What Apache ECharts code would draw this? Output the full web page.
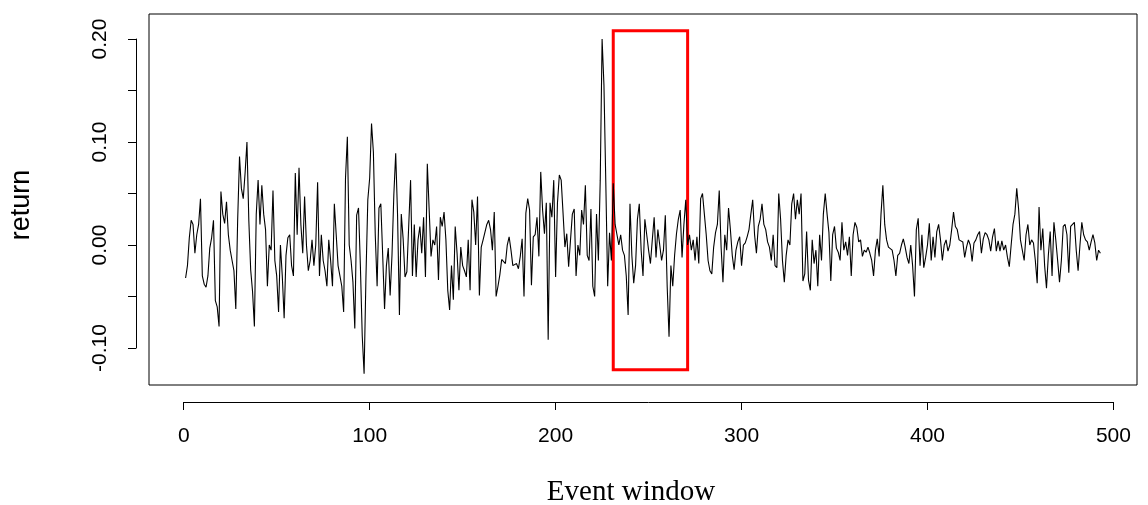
<!DOCTYPE html>
<html><head><meta charset="utf-8">
<script src="https://cdn.jsdelivr.net/npm/echarts@6/dist/echarts.min.js"></script>
<style>html,body{margin:0;padding:0;background:#fff}#c{width:1148px;height:505px}</style>
</head><body><div id="c"></div>
<script>
// Daily returns, index 1..493
const returns = [
-0.032,-0.02,0.007,0.024,0.02,-0.008,0.01,0.02,0.045,-0.03,
-0.038,-0.041,-0.03,-0.003,0.007,0.024,-0.054,-0.06,-0.079,0.052,
0.03,0.021,0.042,0.01,-0.005,-0.015,-0.025,-0.062,0.024,0.086,
0.055,0.045,0.07,0.1,0.024,-0.024,-0.045,-0.079,0.03,0.063,
0.02,
0.058,0.03,0.015,-0.04,0.0,-0.005,0.053,-0.015,-0.03,-0.065,
0.0,-0.03,-0.071,-0.01,0.007,0.01,-0.02,-0.03,0.07,0.01,
0.075,0.02,-0.008,0.047,0.0,-0.025,-0.015,0.005,-0.02,0.0,
0.061,-0.03,0.01,-0.015,-0.025,-0.04,0.005,-0.015,-0.04,0.04,
0.01,
-0.02,-0.03,-0.04,-0.065,0.065,0.105,0.0,-0.015,-0.036,-0.081,
0.029,0.036,-0.02,-0.088,-0.125,-0.031,0.044,0.065,0.118,0.09,
0.01,-0.04,0.036,0.04,-0.01,-0.062,-0.02,-0.003,-0.049,-0.01,
0.049,0.089,0.029,-0.068,0.03,0.006,-0.031,-0.026,0.019,0.063,
-0.03,0.02,
-0.031,0.005,0.018,-0.008,0.027,-0.031,0.079,0.034,-0.011,0.005,
0.0,0.018,-0.034,0.027,0.018,0.032,0.005,-0.044,-0.063,-0.02,
-0.053,0.018,-0.008,-0.044,-0.002,-0.02,-0.025,-0.031,0.005,-0.044,
0.044,0.032,0.0,0.047,-0.049,-0.002,0.005,0.005,0.02,0.024,
0.015,-0.005,
0.032,-0.05,-0.04,-0.029,-0.014,-0.013,-0.018,0.0,0.008,-0.005,
-0.02,-0.021,-0.018,-0.023,-0.011,0.006,-0.05,0.031,0.045,0.034,
-0.039,0.008,0.01,0.027,-0.011,0.071,0.034,0.011,0.041,-0.092,
0.041,0.027,0.063,-0.031,0.041,0.068,0.063,0.031,-0.002,0.011,
-0.021,
-0.02,0.03,0.035,-0.03,0.0,-0.01,0.034,0.02,0.058,-0.01,
-0.015,0.035,-0.04,-0.05,0.03,-0.015,0.063,0.20,0.155,0.06,
-0.04,0.012,-0.015,0.06,0.02,0.01,0.0,0.01,-0.005,-0.01,
-0.03,-0.068,0.04,-0.01,-0.037,-0.02,0.025,0.04,-0.005,-0.03,
0.025,0.01,
-0.005,-0.018,0.005,0.027,-0.012,0.015,0.0,-0.015,-0.005,0.029,
-0.04,-0.089,-0.02,-0.04,-0.01,0.011,0.025,0.034,-0.012,0.02,
0.044,0.0,0.01,-0.005,0.005,-0.015,0.008,-0.018,0.045,0.05,
0.03,0.01,-0.015,-0.025,-0.028,-0.002,0.012,0.02,0.053,-0.002,
-0.036,0.01,
-0.005,0.036,0.015,-0.01,-0.024,-0.005,0.003,0.008,-0.02,0.0,
0.002,0.008,0.015,0.03,0.044,0.01,-0.008,0.018,0.025,0.04,
0.02,0.015,0.003,-0.002,-0.015,0.01,-0.02,-0.022,0.05,0.025,
-0.015,-0.036,-0.01,0.005,0.0,0.04,0.05,0.025,0.044,0.03,
0.05,-0.035,
-0.028,0.013,-0.034,-0.044,0.005,-0.018,-0.005,-0.04,0.01,-0.015,
0.03,0.05,0.03,0.012,-0.035,0.01,0.018,-0.003,-0.007,-0.015,
0.022,-0.005,0.003,-0.01,0.008,-0.03,0.01,0.022,0.017,0.003,
0.005,-0.011,-0.005,-0.007,-0.002,-0.008,-0.015,-0.03,-0.005,0.006,
-0.011,0.03,
0.058,0.02,0.005,-0.002,-0.003,-0.005,-0.015,-0.03,-0.01,-0.008,
0.0,0.006,-0.002,-0.012,-0.018,0.0,-0.02,-0.05,0.015,0.026,
-0.02,0.01,-0.022,-0.012,0.0,0.021,-0.015,0.008,-0.012,0.013,
0.02,0.005,-0.015,0.0,0.005,-0.006,0.0,0.015,0.032,0.018,
0.015,0.005,
0.005,0.003,-0.012,-0.002,0.005,0.0,-0.016,0.002,0.005,0.01,
0.013,-0.008,0.006,0.012,0.01,0.005,-0.006,0.008,0.016,-0.006,
0.004,-0.006,0.004,-0.005,0.0,-0.012,-0.021,0.0,0.02,0.03,
0.055,0.035,0.005,-0.005,-0.015,0.01,0.02,0.0,0.005,0.002,
-0.015,-0.037,
0.037,-0.005,0.016,-0.02,-0.042,-0.01,0.013,-0.03,0.022,0.005,
-0.015,-0.036,-0.015,0.018,0.02,0.01,-0.027,0.018,0.02,0.022,
-0.005,-0.025,0.0,0.022,0.01,0.005,0.003,-0.005,0.003,0.01,
0.002,-0.015,-0.005,-0.008
];
const xTicks = [0, 100, 200, 300, 400, 500];
const yTicks = [-0.10, -0.05, 0.00, 0.05, 0.10, 0.15, 0.20];
const yTickLabels = ['-0.10', '0.00', '0.10', '0.20'];
const eventWindow = [231, 271];
const eventReturnRange = [-0.121, 0.208];

const W = 1148, H = 505;
const box = {left: 149, top: 14, right: 1137, bottom: 385};
const xRange = [-18.68, 512.68], yRange = [-0.1359, 0.2243];
function px(v){ return box.left + (v - xRange[0]) / (xRange[1] - xRange[0]) * (box.right - box.left); }
function py(v){ return box.top + (yRange[1] - v) / (yRange[1] - yRange[0]) * (box.bottom - box.top); }

const font = "'Liberation Sans', Arial, sans-serif";
const chart = echarts.init(document.getElementById('c'), null, {renderer: 'canvas'});
const xMin = xTicks[0], xMax = xTicks[xTicks.length - 1];
const yMin = yTicks[0], yMax = yTicks[yTicks.length - 1];
chart.setOption({
  animation: false,
  backgroundColor: '#fff',
  grid: [
    {left: box.left, top: box.top, right: W - box.right, bottom: H - box.bottom,
     show: true, borderColor: '#000', borderWidth: 1, backgroundColor: 'transparent'},
    {left: px(xMin), right: W - px(xMax), top: box.top, bottom: H - box.bottom, show: false},
    {left: box.left, right: W - box.right, top: py(yMax), bottom: H - py(yMin), show: false}
  ],
  xAxis: [
    {gridIndex: 0, type: 'value', min: xRange[0], max: xRange[1], show: false},
    {gridIndex: 1, type: 'value', min: xMin, max: xMax, interval: 100, position: 'bottom', offset: 17,
     axisLine: {show: true, onZero: false, lineStyle: {color: '#000', width: 1}},
     axisTick: {show: true, length: 8, lineStyle: {color: '#000', width: 1}},
     axisLabel: {show: true, margin: 24, color: '#000', fontSize: 21, fontFamily: font,
       formatter: v => String(v)},
     splitLine: {show: false}},
    {gridIndex: 2, type: 'value', min: 0, max: 1, show: false}
  ],
  yAxis: [
    {gridIndex: 0, type: 'value', min: yRange[0], max: yRange[1], show: false},
    {gridIndex: 1, type: 'value', min: 0, max: 1, show: false},
    {gridIndex: 2, type: 'value', min: yMin, max: yMax, interval: 0.05, position: 'left', offset: 13,
     axisLine: {show: true, onZero: false, lineStyle: {color: '#000', width: 1}},
     axisTick: {show: true, length: 8, lineStyle: {color: '#000', width: 1}},
     axisLabel: {show: true, rotate: 90, margin: 25, color: '#000', fontSize: 21, fontFamily: font,
       formatter: v => { const s = v.toFixed(2); return yTickLabels.includes(s) ? s : (s === '-0.00' ? '0.00' : ''); }},
     splitLine: {show: false}}
  ],
  series: [{
    type: 'line', xAxisIndex: 0, yAxisIndex: 0,
    data: returns.map((r, i) => [i + 1, r]),
    showSymbol: false, symbol: 'none',
    lineStyle: {color: '#000', width: 1.1},
    silent: true,
    markArea: {
      silent: true,
      itemStyle: {color: 'rgba(0,0,0,0)', borderColor: '#ff0000', borderWidth: 3},
      data: [[{xAxis: eventWindow[0], yAxis: eventReturnRange[1]}, {xAxis: eventWindow[1], yAxis: eventReturnRange[0]}]]
    }
  }],
  graphic: [
    {type: 'text', x: 22, y: 205, rotation: Math.PI / 2,
     style: {text: 'return', fill: '#000', font: "27px 'Liberation Sans', Arial, sans-serif", textAlign: 'center', textVerticalAlign: 'middle'}},
    {type: 'text', x: 631, y: 492,
     style: {text: 'Event window', fill: '#000', font: "29px 'Liberation Serif', 'Times New Roman', serif", textAlign: 'center', textVerticalAlign: 'middle'}}
  ]
});
</script>
</body></html>
